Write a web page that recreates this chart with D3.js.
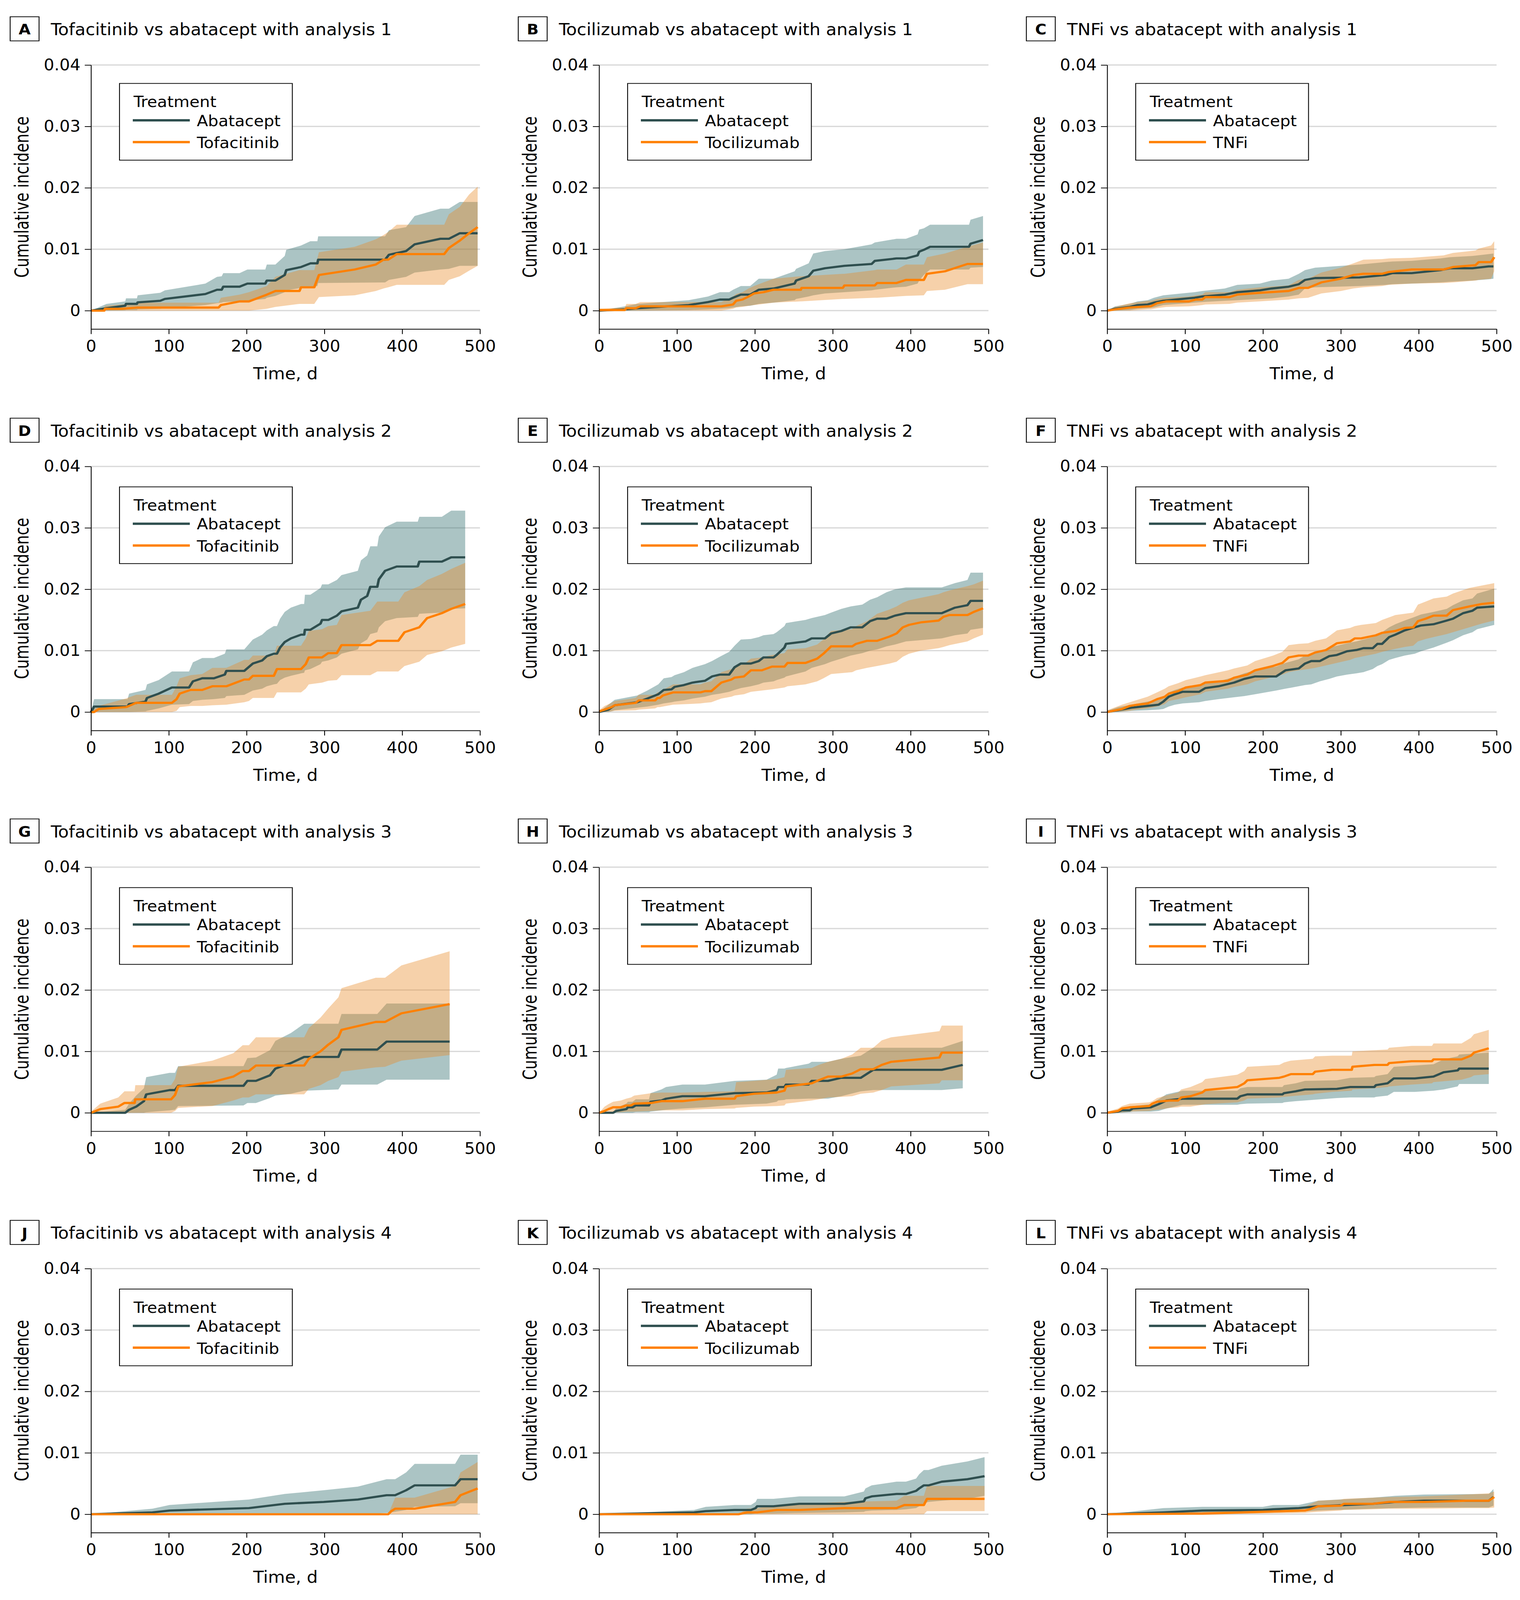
<!DOCTYPE html>
<html>
<head>
<meta charset="utf-8">
<script src="https://cdn.jsdelivr.net/npm/d3@7"></script>
<style>
html, body { margin: 0; padding: 0; background: #fff; overflow: hidden; }
svg { display: block; width: 100vw; height: 100vh; }
svg text { font-family: "DejaVu Sans Condensed", "DejaVu Sans", sans-serif; font-stretch: condensed; fill: #000; }
</style>
</head>
<body>
<svg id="chart" viewBox="0 0 3892 4775" preserveAspectRatio="none"></svg>
<script>
// each point: [time (d), estimate, lower CI, upper CI], incidence values x 1000
var abaA = [[0,0,0,0],[20,0.4,0,1.1],[44,0.8,0.05,1.5],[45,1.1,0.1,2.0],[59,1.1,0.1,2.0],[60,1.35,0.2,2.5],[89,1.6,0.3,2.9],[95,1.9,0.4,3.3],[147,2.7,0.9,4.4],[162,3.4,1.2,5.5],[168,3.4,1.3,5.6],[170,3.9,1.4,6.1],[191,3.9,1.5,6.1],[201,4.4,1.6,6.7],[224,4.4,1.9,6.7],[226,4.9,2.1,7.5],[237,4.9,2.4,7.5],[249,5.8,3.0,8.9],[251,6.6,3.3,9.9],[270,7.1,3.7,10.6],[282,7.7,3.9,11.3],[291,7.7,4.0,11.3],[292,8.3,4.5,12.1],[378,8.3,4.6,12.1],[383,9.1,5.0,13.1],[405,9.7,5.5,13.6],[416,10.8,6.2,15.4],[449,11.7,6.7,16.6],[460,11.7,6.8,16.6],[474,12.6,7.3,17.7],[497,12.6,7.3,17.7]];
var tofA = [[0,0,0,0],[17,0,0,0.5],[18,0.3,0,0.8],[40,0.3,0,1.0],[60,0.5,0,1.3],[164,0.5,0,1.3],[167,0.9,0,2.1],[191,1.5,0,2.6],[203,1.5,0,3.0],[226,2.6,0.3,4.0],[237,3.2,0.6,5.5],[268,3.2,1.1,6.6],[270,3.8,1.1,6.6],[287,3.8,1.1,6.6],[293,5.8,2.2,9.5],[339,6.7,2.5,10.4],[366,7.5,3.2,11.6],[376,8.3,3.6,12.3],[382,8.3,3.8,12.8],[393,9.2,4.2,14.0],[454,9.2,4.2,14.0],[460,10.2,5.0,15.7],[474,11.4,5.6,16.9],[486,12.6,6.5,18.9],[497,13.6,7.3,20.2]];

var abaB = [[0,0,0,0],[33,0.2,0,0.7],[49,0.4,0,1.1],[115,0.9,0.1,1.7],[140,1.4,0.2,2.3],[155,1.8,0.3,3.0],[167,1.8,0.4,3.0],[172,2.1,0.5,3.4],[182,2.6,0.7,4.0],[194,2.6,0.8,4.0],[205,3.4,1.1,5.2],[224,3.6,1.3,5.2],[251,4.4,1.7,6.4],[253,4.9,1.9,6.8],[269,5.6,2.3,7.7],[275,6.5,2.5,9.3],[290,6.9,2.8,9.7],[315,7.3,3.0,10.0],[350,7.6,3.3,10.8],[354,8.1,3.4,11.1],[382,8.5,3.8,11.7],[394,8.5,3.9,11.7],[409,9.0,4.4,12.4],[411,9.6,4.9,13.2],[417,9.9,5.8,13.4],[425,10.4,6.7,14.0],[475,10.4,6.7,14.0],[477,10.9,7.0,14.8],[493,11.5,7.1,15.4]];
var tocB = [[0,0.1,0,0.3],[33,0.1,0,0.5],[35,0.4,0,1.1],[47,0.4,0,1.1],[53,0.7,0,1.4],[157,0.7,0,1.4],[172,1.0,0.3,2.3],[176,1.6,0.5,2.7],[184,1.8,0.6,3.0],[192,2.3,0.8,3.6],[199,2.8,0.9,4.0],[211,3.0,1.1,4.6],[224,3.4,1.3,5.2],[259,3.4,1.5,5.6],[260,3.7,1.5,5.6],[313,3.7,1.9,6.0],[315,4.1,1.9,6.0],[354,4.1,2.1,6.6],[357,4.5,2.1,6.7],[382,4.5,2.3,6.7],[394,5.0,2.4,7.5],[417,5.0,2.5,7.5],[421,6.0,3.2,8.7],[444,6.4,3.4,9.3],[473,7.6,4.3,10.4],[493,7.6,4.3,11.1]];

var abaC = [[0,0,0,0],[10,0.3,0,0.7],[29,0.6,0.1,1.1],[39,0.9,0.3,1.5],[52,1.0,0.4,1.7],[60,1.3,0.5,2.1],[72,1.6,0.9,2.5],[112,2.1,1.3,3.0],[122,2.3,1.4,3.2],[151,2.6,1.6,3.6],[167,3.0,1.7,4.2],[196,3.3,1.9,4.4],[211,3.6,2.0,4.9],[233,3.9,2.3,5.2],[246,4.3,2.6,6.0],[254,5.0,3.6,6.6],[267,5.3,3.8,7.0],[324,5.4,4.0,7.5],[357,5.8,4.2,7.9],[366,6.1,4.3,8.0],[391,6.1,4.4,8.1],[428,6.6,4.6,8.5],[440,6.9,4.7,8.7],[469,6.9,4.9,8.9],[490,7.2,5.1,9.2],[496,7.2,5.2,9.3]];
var tnfC = [[0,0,0,0],[10,0.2,0,0.6],[29,0.5,0,1.2],[52,0.7,0.2,1.6],[56,0.7,0.2,1.6],[64,1.2,0.4,1.9],[76,1.5,0.6,2.1],[105,1.5,0.7,2.3],[114,1.8,0.8,2.5],[122,1.8,0.9,2.6],[126,2.2,1.0,3.0],[157,2.2,1.1,3.0],[167,2.6,1.3,3.4],[196,2.9,1.5,3.8],[233,3.2,1.8,4.1],[246,3.7,2.0,5.0],[258,3.7,2.1,5.2],[275,4.6,2.8,6.2],[300,5.2,3.2,7.0],[316,5.8,3.6,7.7],[329,6.0,3.8,8.3],[353,6.0,4.0,8.4],[362,6.3,4.2,8.5],[391,6.7,4.4,8.6],[432,6.7,4.5,9.0],[444,7.1,4.6,9.4],[473,7.4,4.9,9.8],[477,7.9,5.0,10.1],[493,7.9,5.2,10.6],[497,8.7,6.4,11.3]];

var abaD = [[0,0,0,0],[4,0.9,0,2.1],[47,0.9,0,2.1],[49,1.3,0,3.0],[70,1.7,0.1,3.6],[72,2.3,0.2,4.5],[87,3.0,0.6,5.2],[104,4.0,1.2,6.6],[126,4.0,1.3,6.6],[131,5.0,1.8,8.1],[143,5.5,2.0,8.8],[158,5.5,2.1,8.8],[172,6.1,2.3,9.5],[174,6.7,2.6,10.2],[197,6.7,2.8,10.2],[208,7.9,3.5,11.8],[220,8.4,3.8,12.6],[226,9.1,4.2,13.3],[235,9.5,4.5,14.0],[239,9.5,4.6,14.0],[243,10.5,5.2,15.2],[249,11.4,5.6,16.3],[257,12.0,5.9,17.0],[270,12.6,6.3,17.6],[274,12.6,6.4,17.6],[275,13.4,6.8,19.1],[282,13.4,7.0,19.1],[295,14.4,7.8,20.2],[297,15.0,8.2,20.8],[305,15.0,8.4,20.8],[316,15.7,8.9,21.5],[322,16.4,9.5,22.3],[343,17.0,10.2,23.0],[347,18.3,11.2,24.7],[355,18.9,11.8,25.5],[359,20.4,12.7,27.0],[368,20.4,13.0,27.0],[370,21.6,13.8,28.6],[378,23.0,14.8,30.1],[393,23.7,15.3,31.0],[420,23.7,15.5,31.0],[422,24.5,16.0,31.8],[451,24.5,16.2,31.8],[463,25.2,16.8,32.8],[481,25.2,16.9,32.8]];
var tofD = [[0,0,0,0],[4,0,0,0.5],[10,0.5,0,1.0],[45,0.8,0,2.2],[49,1.0,0,2.4],[58,1.5,0,2.8],[104,1.5,0,2.8],[110,2.1,0.2,4.2],[114,3.0,0.8,5.5],[128,3.6,1.0,6.0],[143,3.6,1.0,6.2],[156,4.2,1.1,7.2],[174,4.2,1.2,7.2],[197,5.3,1.6,8.5],[203,5.3,1.8,8.5],[208,5.9,2.3,9.2],[235,5.9,2.3,9.2],[239,7.0,3.2,10.8],[270,7.0,3.2,10.8],[276,7.8,3.8,12.0],[280,8.9,4.5,13.2],[297,8.9,4.8,13.5],[305,9.6,5.1,14.0],[316,9.6,5.2,14.2],[322,10.9,6.0,15.8],[359,10.9,6.0,16.5],[368,11.6,6.6,18.0],[395,11.6,6.6,18.0],[403,13.0,7.5,19.5],[422,13.8,8.2,20.5],[432,15.3,9.3,21.5],[451,16.1,9.9,22.5],[463,16.8,10.5,23.3],[481,17.6,11.1,24.3]];

var abaE = [[0,0,0,0],[12,0.4,0,1.2],[20,1.1,0.3,2.0],[49,1.6,0.7,2.7],[62,2.2,0.9,3.5],[76,2.9,1.2,4.5],[83,3.6,1.4,5.5],[93,3.7,1.6,5.7],[97,4.1,1.7,6.0],[109,4.4,1.9,6.5],[120,4.8,2.2,7.2],[136,5.1,2.5,7.8],[145,5.8,2.8,8.3],[155,6.1,3.0,9.0],[167,6.1,3.3,9.8],[174,7.3,3.6,10.8],[182,7.9,3.9,11.8],[195,7.9,4.2,11.9],[205,8.3,4.5,12.2],[211,8.9,4.8,12.5],[224,8.9,5.0,12.7],[228,9.3,5.2,13.0],[238,10.5,5.6,14.0],[240,11.1,5.8,14.5],[265,11.5,6.6,15.0],[273,12.0,7.2,15.3],[290,12.0,7.8,15.8],[298,12.8,8.2,16.2],[311,13.2,8.7,16.8],[323,13.8,9.2,17.2],[338,13.8,9.6,17.5],[348,14.8,10.0,18.3],[357,15.2,10.2,18.7],[369,15.2,10.7,19.5],[380,15.7,11.0,20.0],[394,16.1,11.5,20.3],[440,16.1,12.0,20.3],[457,17.0,12.5,21.0],[473,17.4,12.8,21.5],[477,18.1,13.4,22.7],[493,18.1,13.7,22.7]];
var tocE = [[0,0.1,0,0.3],[7,0.4,0,1.0],[16,0.8,0.1,1.5],[20,1.1,0.2,1.8],[47,1.5,0.3,2.3],[51,1.9,0.4,2.8],[72,1.9,0.6,2.8],[75,2.3,0.8,3.2],[78,2.3,0.8,3.2],[82,2.7,0.9,3.6],[95,3.2,1.2,4.5],[130,3.2,1.4,4.5],[136,3.4,1.5,4.8],[144,3.4,1.6,5.0],[157,4.8,2.2,6.5],[170,5.3,2.5,7.0],[174,5.6,2.7,7.4],[186,5.8,2.9,7.8],[195,6.8,3.3,8.7],[209,6.8,3.5,8.9],[222,7.4,3.7,9.3],[238,7.4,4.0,9.6],[242,8.0,4.2,10.2],[265,8.0,4.5,10.4],[280,8.7,5.0,11.0],[288,9.5,5.5,11.8],[298,10.7,6.2,13.2],[325,10.7,6.5,13.5],[330,11.1,6.8,14.0],[344,11.6,7.2,14.8],[357,11.6,7.5,16.0],[373,12.3,7.9,16.7],[382,12.8,8.2,17.2],[390,13.8,9.0,17.8],[398,14.2,9.5,18.2],[413,14.6,10.0,18.6],[436,14.9,10.4,19.2],[442,15.5,10.6,19.5],[450,15.8,10.9,19.8],[473,15.8,11.5,20.5],[481,16.3,12.0,20.8],[493,16.9,12.6,21.4]];

var abaF = [[0,0,0,0.2],[14,0.3,0,0.8],[31,0.7,0.2,1.2],[52,1.0,0.3,1.7],[66,1.2,0.4,2.0],[72,1.7,0.5,2.3],[79,2.5,0.9,3.2],[87,2.9,1.2,3.6],[97,3.3,1.4,4.0],[118,3.3,1.6,4.3],[126,3.9,1.8,4.6],[143,4.2,2.1,5.0],[163,4.8,2.4,5.7],[176,5.4,2.6,6.3],[190,5.8,2.9,6.8],[217,5.8,3.5,7.4],[229,6.8,3.8,8.0],[246,7.1,4.2,8.6],[254,7.9,4.4,9.2],[262,8.3,4.5,9.6],[273,8.3,5.0,9.8],[285,9.1,5.4,10.5],[295,9.3,5.8,10.8],[308,9.9,6.1,11.2],[320,10.1,6.3,11.5],[329,10.4,6.5,11.8],[341,10.4,7.0,12.2],[347,11.1,7.5,12.5],[353,11.1,7.8,13.0],[362,12.2,8.5,13.8],[370,12.6,8.8,14.3],[382,13.3,9.2,14.9],[395,13.8,9.5,15.5],[403,14.1,9.9,15.9],[419,14.3,10.5,16.3],[436,14.9,11.3,16.8],[444,15.2,11.7,17.4],[457,16.1,12.5,18.2],[469,16.5,13.0,18.5],[475,17.0,13.5,19.3],[497,17.2,14.2,20.1]];
var tnfF = [[0,0,0,0.3],[19,0.5,0.1,1.2],[29,1.0,0.2,1.6],[39,1.2,0.4,2.0],[52,1.4,0.6,2.5],[64,2.1,0.9,3.2],[74,2.5,1.3,3.8],[79,3.0,1.8,4.2],[91,3.4,2.1,4.7],[101,4.0,2.4,5.2],[120,4.4,2.9,5.8],[126,4.8,3.3,6.0],[155,5.1,3.8,6.8],[163,5.6,4.1,7.1],[180,6.1,4.5,7.6],[190,6.8,5.0,8.3],[213,7.5,5.7,9.2],[225,8.0,6.1,9.8],[233,8.9,6.5,10.9],[246,9.2,6.8,11.1],[258,9.2,7.0,11.2],[267,9.7,7.2,11.6],[281,10.1,7.6,12.0],[295,11.2,8.0,13.3],[312,11.5,8.5,13.7],[318,12.0,8.8,14.0],[326,12.0,9.0,14.2],[345,12.5,9.5,14.5],[353,12.9,9.8,15.0],[370,13.2,10.3,15.8],[382,13.7,10.6,16.0],[393,13.8,10.8,16.2],[399,14.8,11.5,17.5],[409,15.2,11.9,18.0],[419,15.7,12.2,18.5],[436,15.7,12.7,18.8],[444,16.6,13.0,19.3],[465,17.2,13.8,20.2],[481,17.6,14.4,20.6],[497,17.8,14.9,21.0]];

var abaG = [[0,0,0,0],[44,0,0,0.5],[49,0.5,0,1.5],[58,1.0,0,2.8],[68,1.9,0,4.0],[71,3.0,0.1,5.8],[101,3.7,0.4,6.5],[108,3.7,0.5,6.5],[112,4.4,1.1,7.6],[196,4.4,1.2,7.6],[201,5.2,1.6,8.9],[212,5.2,1.6,9.0],[230,6.1,2.4,10.2],[237,7.2,2.8,11.7],[257,8.1,3.1,13.0],[274,9.1,3.6,14.5],[318,9.1,3.8,14.5],[322,10.3,4.6,16.1],[368,10.3,4.6,16.1],[380,11.6,5.4,17.8],[461,11.6,5.4,17.8]];
var tofG = [[0,0,0,0.2],[12,0.6,0,1.5],[35,1.0,0,2.5],[43,1.6,0,3.5],[56,1.6,0,3.5],[57,2.2,0,4.5],[103,2.2,0,4.5],[108,2.9,0.3,5.5],[112,4.3,0.8,7.5],[156,5.0,1.1,8.5],[183,5.9,2.0,9.7],[195,6.8,2.5,11.0],[203,6.8,2.5,11.0],[212,7.7,3.0,12.3],[274,7.7,3.0,12.3],[280,8.8,3.9,13.8],[295,10.0,4.5,15.5],[305,11.1,5.2,17.0],[318,12.3,5.8,18.8],[322,13.5,6.7,20.3],[366,14.8,7.4,22.0],[378,14.8,7.5,22.0],[399,16.2,8.5,24.0],[461,17.7,9.4,26.3]];

var abaH = [[0,0,0,0],[18,0,0,0.1],[22,0.3,0,0.8],[35,0.6,0,1.5],[37,0.9,0,1.8],[43,0.9,0,1.8],[47,1.2,0.1,2.2],[64,1.2,0.1,2.2],[66,1.8,0.2,3.2],[80,2.0,0.4,3.8],[86,2.3,0.5,4.2],[107,2.7,0.7,4.6],[136,2.7,0.9,4.6],[174,3.2,1.3,5.2],[215,3.3,1.5,5.4],[228,3.7,1.8,6.2],[230,4.2,2.0,7.2],[238,4.2,2.1,7.2],[240,4.6,2.2,7.3],[269,4.6,2.3,8.0],[273,5.2,2.3,8.3],[294,5.2,2.3,8.3],[311,5.7,2.7,8.8],[336,5.7,3.5,9.3],[352,7.0,3.7,10.6],[440,7.0,3.7,10.6],[467,7.8,4.0,11.7]];
var tocH = [[0,0,0,0],[7,0.3,0,1.0],[12,0.6,0,1.4],[18,0.9,0.1,1.8],[28,0.9,0.1,2.0],[35,1.2,0.2,2.3],[41,1.2,0.2,2.5],[45,1.5,0.2,2.8],[67,1.6,0.3,3.2],[80,1.9,0.4,3.3],[107,1.9,0.4,3.3],[136,2.3,0.6,3.4],[174,2.3,0.7,3.5],[176,2.7,0.8,5.0],[199,3.1,1.0,5.2],[228,3.3,1.1,5.5],[238,3.6,1.2,5.8],[240,4.3,1.5,7.0],[273,4.8,2.0,7.3],[282,5.3,2.2,7.8],[294,5.9,2.5,8.3],[311,5.9,2.6,8.8],[325,6.4,2.7,9.5],[336,7.1,3.1,10.6],[352,7.1,3.3,10.6],[363,7.8,3.7,11.8],[375,8.3,4.3,12.3],[437,9.0,4.8,13.3],[440,9.8,5.3,14.2],[467,9.8,5.3,14.2]];

var abaI = [[0,0,0,0],[14,0.2,0,0.5],[19,0.4,0,0.8],[29,0.4,0.1,0.9],[33,0.7,0.2,1.1],[56,0.9,0.2,1.4],[66,1.4,0.3,2.2],[76,2.0,0.7,3.0],[97,2.3,1.3,3.6],[167,2.3,1.3,3.6],[171,2.7,1.4,4.0],[180,3.0,1.5,4.2],[225,3.0,1.6,4.2],[227,3.2,1.7,4.5],[242,3.5,1.9,4.8],[254,3.8,2.0,5.2],[295,3.9,2.4,5.3],[312,4.2,2.5,5.7],[343,4.2,2.5,5.8],[345,4.5,2.6,6.0],[360,4.8,2.8,6.3],[368,5.6,3.4,7.5],[395,5.6,3.4,7.7],[419,5.9,3.6,7.9],[432,6.6,3.8,8.7],[450,6.9,4.3,9.2],[452,7.2,4.7,9.5],[490,7.2,4.7,9.8]];
var tnfI = [[0,0,0,0.2],[14,0.3,0,0.7],[19,0.7,0.1,1.1],[29,0.9,0.2,1.5],[54,1.1,0.3,1.7],[58,1.5,0.4,1.9],[64,1.8,0.5,2.4],[81,2.0,0.8,3.0],[91,2.0,0.9,3.3],[95,2.5,1.0,3.8],[107,2.7,1.0,4.2],[122,3.3,1.3,5.0],[126,3.7,1.4,5.5],[167,4.2,1.7,6.2],[176,4.8,2.0,6.8],[180,5.3,2.3,7.5],[221,5.7,2.5,7.8],[227,5.9,2.6,8.2],[236,6.3,2.7,8.5],[264,6.3,3.0,8.8],[267,6.7,3.1,9.2],[289,7.0,3.4,9.3],[314,7.0,3.6,9.3],[315,7.5,3.8,10.0],[343,7.8,4.0,10.2],[360,7.8,4.2,10.3],[362,8.1,4.3,10.6],[391,8.4,4.6,10.9],[417,8.4,4.8,10.9],[419,8.7,5.0,11.3],[455,8.7,5.4,11.3],[467,9.3,5.8,12.2],[471,9.8,6.1,12.8],[490,10.5,6.3,13.5]];

var abaJ = [[0,0,0,0],[79,0.3,0,0.9],[101,0.6,0,1.5],[203,1.0,0,2.4],[249,1.7,0,3.3],[299,2.0,0,3.9],[343,2.4,0,4.5],[380,3.1,0.2,5.7],[391,3.1,0.4,5.7],[405,3.9,0.7,6.8],[416,4.7,1.2,8.2],[468,4.7,1.3,8.2],[475,5.7,1.8,9.7],[497,5.7,1.8,9.7]];
var tofJ = [[0,0,0,0],[382,0,0,0],[386,0.5,0,1.2],[391,0.9,0,2.7],[416,0.9,0,2.7],[468,2.0,0,4.6],[475,3.1,0,6.8],[497,4.2,0,8.5]];

var abaK = [[0,0,0,0],[122,0.3,0,0.7],[137,0.5,0,1.2],[174,0.7,0,1.5],[195,0.7,0,1.5],[201,1.0,0.1,2.0],[203,1.3,0.1,2.5],[224,1.3,0.1,2.5],[257,1.7,0.2,2.9],[315,1.7,0.3,2.9],[340,2.1,0.4,3.7],[342,2.6,0.5,4.2],[350,2.9,0.6,4.7],[382,3.3,0.7,5.3],[394,3.3,0.8,5.3],[407,3.8,1.0,5.8],[411,4.2,1.3,6.5],[417,4.7,1.8,7.2],[423,4.7,2.0,7.2],[440,5.3,2.2,7.9],[473,5.7,2.5,8.6],[495,6.2,3.0,9.3]];
var tocK = [[0,0,0,0],[179,0,0,0],[190,0.3,0,0.9],[203,0.3,0,1.0],[228,0.7,0,1.5],[257,0.7,0,1.7],[315,1.0,0,2.0],[382,1.0,0,2.2],[392,1.5,0,3.0],[417,1.5,0,3.0],[421,2.5,0.5,4.6],[495,2.5,0.5,4.6]];

var abaL = [[0,0,0,0],[72,0.3,0,1.0],[122,0.6,0.2,1.2],[200,0.7,0.3,1.2],[213,0.8,0.3,1.5],[246,1.0,0.4,1.5],[271,1.3,0.6,2.2],[341,1.7,0.9,2.7],[370,2.0,1.0,3.0],[407,2.2,1.1,3.2],[490,2.2,1.1,3.3],[496,2.8,1.4,4.1]];
var tnfL = [[0,0,0,0],[122,0.1,0,0.4],[200,0.4,0.1,0.8],[254,0.6,0.2,1.2],[260,0.8,0.3,1.6],[271,1.3,0.4,2.2],[300,1.4,0.6,2.4],[304,1.7,0.7,2.5],[341,1.7,0.8,2.7],[362,2.0,0.9,2.8],[407,2.0,0.9,2.9],[461,2.2,1.0,3.2],[490,2.2,1.0,3.4],[497,2.8,1.1,3.7]];

var letters = ['A','B','C','D','E','F','G','H','I','J','K','L'];
var drugs = ['Tofacitinib', 'Tocilizumab', 'TNFi'];
var analyses = [1, 2, 3, 4];
var abaSeries = [abaA, abaB, abaC, abaD, abaE, abaF, abaG, abaH, abaI, abaJ, abaK, abaL];
var drugSeries = [tofA, tocB, tnfC, tofD, tocE, tnfF, tofG, tocH, tnfI, tofJ, tocK, tnfL];
var yTicks = [0, 0.01, 0.02, 0.03, 0.04];
var xTicks = [0, 100, 200, 300, 400, 500];

var colX0 = [233, 1534, 2835], colX1 = [1229, 2531, 3832];
var rowTop = [194, 1392, 2588, 3786], rowBottom = [982, 2180, 3376, 4574];
var legendOffset = [55, 61, 61, 61];

var ABA = '#2f4f4f', DRUG = '#ff8000';
var ABA_BAND = 'rgba(45,108,108,0.4)', DRUG_BAND = 'rgba(232,140,42,0.4)';

var svg = d3.select('#chart');
var fmt = function(d) { return d === 0 ? '0' : d3.format('.2f')(d); };

var drawPanel = function(i) {
  var row = Math.floor(i / 3), col = i % 3;
  var x0 = colX0[col], x1 = colX1[col];
  var x = d3.scaleLinear().domain([0, 500]).range([x0, x1]);
  var y = d3.scaleLinear().domain([-0.003, 0.04]).range([rowBottom[row], rowTop[row]]);
  var g = svg.append('g');

  // grid
  g.selectAll('line.grid').data(yTicks).enter().append('line')
    .attr('x1', x0).attr('x2', x1)
    .attr('y1', function(d) { return y(d); }).attr('y2', function(d) { return y(d); })
    .attr('stroke', '#d9d9d9').attr('stroke-width', 3.8);

  var band = d3.area()
    .x(function(d) { return x(d[0]); })
    .y0(function(d) { return y(d[2] / 1000); })
    .y1(function(d) { return y(d[3] / 1000); });
  var line = d3.line()
    .x(function(d) { return x(d[0]); })
    .y(function(d) { return y(d[1] / 1000); });

  g.append('path').attr('d', band(abaSeries[i])).attr('fill', ABA_BAND);
  g.append('path').attr('d', band(drugSeries[i])).attr('fill', DRUG_BAND);
  g.append('path').attr('d', line(abaSeries[i])).attr('fill', 'none')
    .attr('stroke', ABA).attr('stroke-width', 6.5).attr('stroke-linejoin', 'round');
  g.append('path').attr('d', line(drugSeries[i])).attr('fill', 'none')
    .attr('stroke', DRUG).attr('stroke-width', 6.5).attr('stroke-linejoin', 'round');

  // axes
  var yAxis = g.append('g').attr('transform', 'translate(' + x0 + ',0)')
    .call(d3.axisLeft(y).tickValues(yTicks).tickFormat(fmt).tickSize(16).tickSizeOuter(0).tickPadding(11));
  var xAxis = g.append('g').attr('transform', 'translate(0,' + rowBottom[row] + ')')
    .call(d3.axisBottom(x).tickValues(xTicks).tickSize(15).tickSizeOuter(0).tickPadding(19));
  [yAxis, xAxis].forEach(function(a) {
    a.selectAll('path, line').attr('stroke', '#000').attr('stroke-width', 2.2);
    a.selectAll('text').attr('font-size', 47).attr('fill', '#000')
      .style('font-family', '"DejaVu Sans Condensed", "DejaVu Sans", sans-serif');
  });

  // axis titles
  g.append('text')
    .attr('transform', 'translate(' + (x0 - 160) + ',' + ((rowTop[row] + rowBottom[row]) / 2) + ') rotate(-90)')
    .attr('text-anchor', 'middle').attr('font-size', 49.5)
    .text('Cumulative incidence');
  g.append('text')
    .attr('x', (x0 + x1) / 2).attr('y', rowBottom[row] + 150)
    .attr('text-anchor', 'middle').attr('font-size', 49.5)
    .text('Time, d');

  // panel title
  g.append('rect')
    .attr('x', x0 - 207).attr('y', rowTop[row] - 144).attr('width', 74).attr('height', 72)
    .attr('fill', 'none').attr('stroke', '#000').attr('stroke-width', 2.2);
  g.append('text')
    .attr('x', x0 - 170).attr('y', rowTop[row] - 91)
    .attr('text-anchor', 'middle').attr('font-size', 44).attr('font-weight', 'bold')
    .text(letters[i]);
  g.append('text')
    .attr('x', x0 - 103).attr('y', rowTop[row] - 89).attr('font-size', 49.5)
    .text(drugs[col] + ' vs abatacept with analysis ' + analyses[row]);

  // legend
  var lx = x0 + 73, ly = rowTop[row] + legendOffset[row];
  var leg = g.append('g').attr('transform', 'translate(' + lx + ',' + ly + ')');
  var box = leg.append('rect').attr('height', 229)
    .attr('fill', '#fff').attr('stroke', '#000').attr('stroke-width', 2.2);
  leg.append('text').attr('x', 36).attr('y', 71).attr('font-size', 46.5).text('Treatment');
  var items = [['Abatacept', ABA, 110, 127], [drugs[col], DRUG, 175, 193]];
  var maxW = 0;
  items.forEach(function(it) {
    leg.append('line').attr('x1', 34).attr('x2', 180).attr('y1', it[2]).attr('y2', it[2])
      .attr('stroke', it[1]).attr('stroke-width', 7);
    var t = leg.append('text').attr('x', 198).attr('y', it[3]).attr('font-size', 46.5).text(it[0]);
    maxW = Math.max(maxW, t.node().getComputedTextLength());
  });
  box.attr('width', 198 + maxW + 30);
};

d3.range(12).forEach(drawPanel);
</script>
</body>
</html>
